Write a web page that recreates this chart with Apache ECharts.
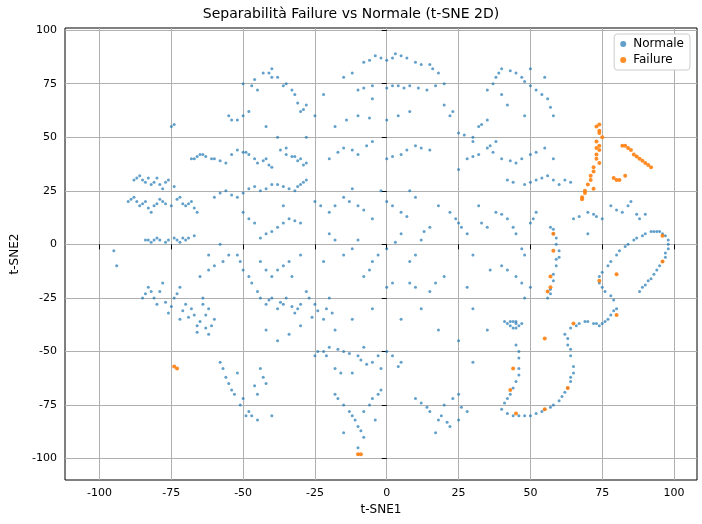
<!DOCTYPE html>
<html>
<head>
<meta charset="utf-8">
<script src="https://cdn.jsdelivr.net/npm/echarts@6/dist/echarts.min.js"></script>
<style>html,body{margin:0;padding:0;background:#fff}#chart{width:702px;height:524px}</style>
</head>
<body>
<div id="chart"></div>
<script>
// valori letti a occhio dal grafico t-SNE
var xTicks = [-100, -75, -50, -25, 0, 25, 50, 75, 100];
var yTicks = [-100, -75, -50, -25, 0, 25, 50, 75, 100];

var normalePoints = [
  [-88,30],[-86,32],[-84,29],[-82,28],[-80,31],[-78,26],[-76,30],[-74,27],[-90,20],[-88,22],[-86,18],[-84,20],[-82,15],[-80,19],[-78,20],[-75,18],[-72,22],[-70,18],[-68,20],[-66,15],
  [-84,2],[-82,1],[-80,3],[-77,1],[-74,3],[-72,1],[-70,2],[-67,4],[-95,-3],[-94,-10],
  [-85,-25],[-83,-20],[-82,-22],[-80,-28],[-78,-18],[-76,-32],[-74,-25],[-72,-20],[-72,-35],[-70,-28],
  [-68,-30],[-66,-38],[-64,-25],[-62,-42],[-60,-35],[-66,-41],[-63,-33],[-65,-15],[-62,-12],[-60,-10],[-55,-5],[-58,0],[-62,-5],[-57,-8],
  [-55,60],[-52,58],[-48,62],[-45,72],[-50,75],[-40,82],[-40,78],[-38,78],[-35,75],[-32,70],[-30,62],[-28,65],[-42,55],[-38,50],[-46,77],
  [-68,40],[-66,41],[-64,42],[-60,40],[-56,38],[-52,44],[-50,43],[-48,42],[-45,38],[-42,40],[-40,36],[-35,42],[-32,41],[-30,40],[-28,38],[-35,45],
  [-60,22],[-56,25],[-52,22],[-48,26],[-46,27],[-44,25],[-40,28],[-36,27],[-32,25],[-30,28],[-28,30],
  [-50,15],[-46,10],[-42,5],[-44,3],[-38,8],[-34,12],[-30,10],[-36,18],
  [-52,-5],[-50,-12],[-47,-18],[-44,-8],[-40,-15],[-36,-10],[-30,-5],[-33,-15],
  [-45,-22],[-42,-28],[-40,-25],[-38,-30],[-35,-25],[-32,-32],[-28,-22],[-25,-28],[-22,-35],[-20,-25],[-18,-40],[-30,-28],[-26,-34],
  [-58,-55],[-56,-62],[-54,-68],[-52,-60],[-50,-72],[-48,-78],[-45,-82],[-42,-65],[-44,-58],[-46,-66],[-40,-80],
  [-42,-40],[-38,-45],[-34,-42],[-30,-38],
  [-25,-52],[-22,-50],[-20,-48],[-15,-50],[-10,-52],[-5,-55],[0,-50],[5,-55],[-18,-58],[-12,-60],[-2,-58],[-8,-48],
  [-18,-70],[-15,-75],[-12,-80],[-10,-85],[-8,-90],[-5,-72],[-2,-68],[-10,-95],[-15,-88],[-8,-78],[-4,-82],
  [10,-72],[15,-78],[18,-82],[22,-85],[25,-70],[20,-75],[28,-78],[17,-88],[25,-82],
  [-25,20],[-20,15],[-15,22],[-10,18],[-5,12],[0,20],[5,15],[10,22],[-20,5],[-15,-5],[-10,2],[-5,-8],[0,-2],[5,5],[10,-5],[15,8],[-8,-15],[0,-20],[8,-18],[15,-22],[20,-15],[-22,-8],
  [12,-30],[5,-35],[-5,-30],[-12,-35],[18,-40],[25,-45],[30,-55],[35,-40],[30,-30],[28,-20],[-2,25],[8,25],[-12,26],[18,18],[12,2],
  [-20,40],[-15,45],[-10,42],[-5,48],[0,40],[5,42],[10,46],[15,44],[-18,55],[-10,60],[0,58],[8,62],[-5,68],[-25,60],[-28,50],[-22,70],[-15,78],
  [-12,80],[-8,85],[-4,88],[0,86],[3,89],[5,88],[10,85],[15,84],[18,80],[-10,72],[-5,74],[0,73],[4,74],[8,74],[14,72],[20,75],
  [20,65],[22,60],[25,52],[30,50],[32,55],[35,58],[28,40],[25,35],[32,42],[38,48],[40,70],[35,72],[38,78],
  [40,82],[45,80],[48,76],[52,72],[56,68],[58,60],[42,65],[48,60],[50,82],[55,78],
  [30,48],[35,45],[40,40],[45,38],[50,42],[55,45],[58,40],[42,30],[48,28],[52,30],[56,32],[60,28],[62,30],[64,29],
  [22,15],[25,10],[28,5],[30,-5],[35,8],[38,15],[42,12],[45,5],[48,-5],[50,10],[52,15],[40,-10],[45,-15],[50,-20],[48,-25],[32,18],[36,-12],
  [65,12],[70,15],[75,12],[78,18],[82,15],[85,20],[88,12],[90,14],[70,5],[72,14],
  [42,-37],[43,-36],[44,-36],[45,-37],[46,-38],[44,-39],[43,-38],
  [-75,55],[-74,56],
  [57,8],[58,5],[59,3],[60,-3],[59,-7],[59,-10],[58,-17],[57,-21],[56,-25],
  [45,-47],[46,-53],[46,-58],[45,-64],[43,-70],[41,-74],[40,-77],[42,-79],[44,-80],[48,-80],[52,-79],[55,-77],[58,-75],[61,-71],[63,-67],[64,-62],[65,-57],[64,-52],[63,-47],[62,-42],[64,-39],[67,-37],[70,-36],[72,-37],[74,-38],[76,-36],[78,-33],[80,-30],[79,-26],[76,-22],[74,-18],[75,-13],[78,-8],[81,-3],[84,0],[87,3],[90,5],[93,6],[95,6],[97,4],[98,0],[97,-4],[96,-8],[94,-12],[92,-16],[90,-19],[88,-22]
];

// punti aggiuntivi per rendere la densità dei gruppi
var normaleExtra = [
  [-87,31],[-85,30],[-83,31],[-81,29],[-79,28],[-77,29],[-89,21],[-87,20],[-85,19],[-83,17],[-81,18],[-79,21],[-77,19],[-73,21],[-71,19],[-69,19],[-67,17],
  [-83,2],[-81,2],[-79,2],[-76,2],[-73,2],[-71,3],[-69,3],
  [-84,-23],[-81,-25],[-79,-22],[-77,-27],[-75,-29],[-73,-23],[-71,-31],[-69,-34],[-67,-33],[-65,-36],[-63,-39],[-61,-38],[-64,-28],[-62,-30],
  [-54,58],[-50,60],[-47,74],[-43,80],[-41,80],[-36,74],[-33,72],[-31,66],[-29,63],
  [-67,40],[-65,42],[-63,41],[-61,40],[-58,39],[-54,42],[-49,43],[-46,40],[-43,39],[-41,37],[-33,41],[-31,39],[-29,37],[-37,44],
  [-58,24],[-54,23],[-50,24],[-42,26],[-38,28],[-34,26],[-31,27],[-29,29],
  [-48,12],[-40,6],[-36,10],[-32,11],[-51,-8],[-48,-15],[-42,-12],[-38,-12],[-34,-8],
  [-44,-25],[-41,-26],[-37,-27],[-36,-28],[-33,-29],[-31,-30],[-27,-25],[-24,-31],[-21,-30],[-19,-32],
  [-57,-58],[-55,-65],[-53,-70],[-51,-75],[-49,-80],[-47,-80],[-43,-62],[-45,-70],
  [-24,-50],[-21,-52],[-17,-49],[-13,-51],[-9,-54],[-7,-56],[-3,-52],[2,-52],[4,-57],[-16,-60],
  [-17,-72],[-13,-78],[-11,-82],[-9,-87],[-6,-75],[-3,-70],[12,-74],[14,-76],[19,-80],[21,-83],[23,-72],[26,-76],
  [-23,18],[-18,18],[-13,20],[-8,16],[2,18],[7,13],[-18,2],[-12,-2],[-3,-5],[3,1],[8,-8],[13,6],[-6,-12],[2,-18],[10,-20],[17,-18],
  [-17,43],[-12,44],[-7,46],[2,41],[7,44],[12,45],[-14,58],[-6,59],[4,60],
  [-6,86],[-2,87],[2,87],[7,87],[12,84],[16,82],[-8,73],[2,74],[6,73],[11,73],[17,74],
  [23,62],[27,51],[33,56],[30,41],[36,46],[37,75],[39,80],[43,81],[47,78],[50,74],[54,70],[57,64],
  [37,43],[43,39],[47,40],[52,43],[44,29],[50,29],[54,31],[58,30],
  [24,12],[26,8],[33,10],[40,14],[44,8],[47,-2],[51,12],[42,-12],[47,-18],
  [67,13],[73,13],[80,16],[84,18],[87,14],
  [41,-36],[45,-36],[47,-37],[45,-39],
  [58,7],[59,0],[60,-6],[58,-14],[57,-23],
  [46,-50],[46,-61],[44,-67],[42,-72],[46,-80],[50,-80],[54,-78],[57,-76],[60,-73],[62,-69],[64,-64],[65,-60],[64,-49],[63,-44],[66,-38],[69,-36],[73,-37],[75,-37],[77,-35],[79,-31],[78,-24],[75,-20],[74,-15],[77,-10],[80,-5],[83,-1],[86,2],[89,4],[92,6],[94,6],[96,5],[98,2],[98,-2],[97,-6],[95,-10],[93,-14],[91,-17],[89,-20]
];

var failurePoints = [
  [73,55],[74,53],[74,52],[73,48],[74,46],[74,44],[73,42],[73,40],[72,36],[72,34],[71,32],[71,30],[70,28],[69,25],[69,24],[68,22],[68,21],[75,50],[74,38],[72,26],[73,45],[74,56],
  [82,46],[83,46],[84,45],[85,44],[86,42],[87,41],[88,40],[89,39],[90,38],[91,37],[92,36],[79,31],[80,30],[81,30],[83,32],
  [58,5],[58,-3],[57,-15],[56,-22],[57,-20],
  [55,-44],[44,-58],[43,-68],[45,-79],[55,-77],[63,-67],[65,-37],[80,-33],[80,-14],[96,4],[96,-8],[74,-17],
  [-73,-58],[-74,-57],[-10,-98],[-9,-98]
];

var chart = echarts.init(document.getElementById('chart'));
var option = {
  animation: false,
  title: {
    text: 'Separabilità Failure vs Normale (t-SNE 2D)',
    left: 'center', top: 2,
    textStyle: {fontFamily: 'DejaVu Sans', fontWeight: 'normal', fontSize: 14, color: '#000'}
  },
  legend: {
    right: 12, top: 34, orient: 'vertical',
    backgroundColor: '#fff', borderColor: '#ccc', borderWidth: 1, borderRadius: 3,
    padding: [4, 6], itemGap: 4, itemWidth: 10, itemHeight: 6,
    textStyle: {fontFamily: 'DejaVu Sans', fontSize: 12, color: '#000'},
    data: [{name: 'Normale', icon: 'circle'}, {name: 'Failure', icon: 'circle'}]
  },
  grid: {left: 65, right: 5, top: 28, bottom: 44, show: true, borderColor: '#000', borderWidth: 1},
  xAxis: {
    type: 'value', min: -112, max: 108,
    name: 't-SNE1', nameLocation: 'middle', nameGap: 24,
    nameTextStyle: {fontFamily: 'DejaVu Sans', fontSize: 12, color: '#000'},
    axisLine: {show: false},
    axisTick: {show: true, customValues: xTicks, lineStyle: {color: '#000'}},
    axisLabel: {customValues: xTicks, fontFamily: 'DejaVu Sans', fontSize: 11, color: '#000', margin: 8},
    splitLine: {show: true, lineStyle: {color: '#b0b0b0'}}
  },
  yAxis: {
    type: 'value', min: -110, max: 101,
    name: 't-SNE2', nameLocation: 'middle', nameGap: 44,
    nameTextStyle: {fontFamily: 'DejaVu Sans', fontSize: 12, color: '#000'},
    axisLine: {show: false},
    axisTick: {show: true, customValues: yTicks, lineStyle: {color: '#000'}},
    axisLabel: {customValues: yTicks, fontFamily: 'DejaVu Sans', fontSize: 11, color: '#000', margin: 8},
    splitLine: {show: true, lineStyle: {color: '#b0b0b0'}}
  },
  series: [
    {name: 'Normale', type: 'scatter', symbolSize: 3, data: normalePoints.concat(normaleExtra),
     itemStyle: {color: '#1f77b4', opacity: 0.7}},
    {name: 'Failure', type: 'scatter', symbolSize: 4, data: failurePoints,
     itemStyle: {color: '#ff7f0e', opacity: 0.9}}
  ]
};
chart.setOption(option);
</script>
</body>
</html>
